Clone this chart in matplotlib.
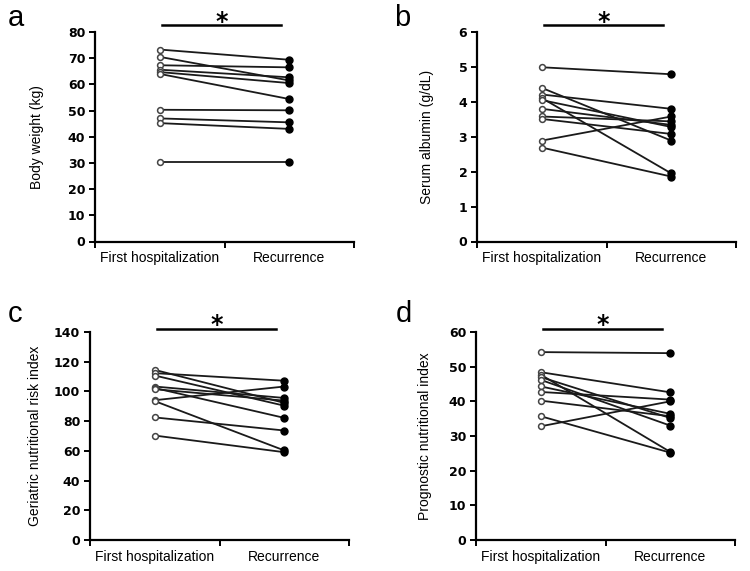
import numpy as np
import matplotlib.pyplot as plt
from matplotlib.ticker import NullFormatter

plt.rcParams['font.family'] = ['Liberation Sans', 'DejaVu Sans']

groups = ['First hospitalization', 'Recurrence']

# panel a: body weight (kg)
weight_first = [73.3, 70.5, 67.3, 65.6, 64.7, 64.0, 50.3, 47.0, 45.2, 30.2]
weight_rec = [69.4, 61.5, 66.5, 62.7, 60.5, 54.4, 50.1, 45.5, 43.0, 30.2]

# panel b: serum albumin (g/dL)
alb_first = [4.99, 4.40, 4.21, 4.11, 4.05, 3.80, 3.58, 3.51, 2.89, 2.69]
alb_rec = [4.79, 2.89, 3.80, 1.95, 3.28, 3.34, 3.44, 3.08, 3.58, 1.86]

# panel c: GNRI
gnri_first = [114.5, 112.3, 110.7, 103.3, 102.3, 101.5, 94.1, 93.5, 82.5, 70.3]
gnri_rec = [92.3, 107.2, 90.4, 95.6, 82.2, 93.8, 103.3, 60.3, 73.7, 59.1]

# panel d: PNI
pni_first = [54.2, 48.4, 47.7, 47.0, 46.2, 44.3, 42.7, 40.2, 35.7, 32.8]
pni_rec = [53.9, 42.6, 25.4, 35.2, 33.0, 36.4, 40.5, 35.7, 25.2, 40.0]

panels = [
    ('a', 'Body weight (kg)', weight_first, weight_rec, 80, 10),
    ('b', 'Serum albumin (g/dL)', alb_first, alb_rec, 6, 1),
    ('c', 'Geriatric nutritional risk index', gnri_first, gnri_rec, 140, 20),
    ('d', 'Prognostic nutritional index', pni_first, pni_rec, 60, 10),
]

W, H = 750, 571
# axes boxes in pixels: left, top, right, bottom
boxes = [(95, 32, 354, 241.5), (477, 32, 736, 241.5),
         (90, 332, 349, 540), (476, 332, 735, 540)]
letter_pos = [(8, 26), (394, 26), (8, 322), (396, 322)]
ylabel_x = [37, 427, 35, 425]
bar_y = [1.033, 1.033, 1.016, 1.016]

fig = plt.figure(figsize=(W / 100, H / 100), dpi=100)

for i, (letter, ylabel, first, rec, ymax, ystep) in enumerate(panels):
    l, t, r, b = boxes[i]
    ax = fig.add_axes([l / W, 1 - b / H, (r - l) / W, (b - t) / H])

    for f, s in zip(first, rec):
        ax.plot([0.5, 1.5], [f, s], color='#1a1a1a', lw=1.3, zorder=2)
    ax.plot([0.5] * len(first), first, 'o', ms=4.2, mfc='white', mec='#444444',
            mew=1.1, zorder=3, clip_on=False)
    ax.plot([1.5] * len(rec), rec, 'o', ms=5, mfc='black', mec='black',
            zorder=3, clip_on=False)

    ax.set_xlim(0, 2)
    ax.set_ylim(0, ymax)
    ax.set_yticks(np.arange(0, ymax + ystep / 2, ystep))
    ax.set_xticks([0, 1, 2])
    ax.xaxis.set_major_formatter(NullFormatter())
    ax.set_xticks([0.5, 1.5], minor=True)
    ax.set_xticklabels(groups, minor=True, fontsize=10)
    ax.tick_params(axis='x', which='minor', length=0, pad=7)
    ax.tick_params(axis='both', which='major', direction='out', length=4,
                   width=1.4, color='black')
    ax.tick_params(axis='y', labelsize=9, pad=3)
    for lab in ax.get_yticklabels():
        lab.set_family('DejaVu Sans')
        lab.set_fontweight('bold')

    for side in ['top', 'right']:
        ax.spines[side].set_visible(False)
    for side in ['left', 'bottom']:
        ax.spines[side].set_linewidth(1.6)

    ax.set_ylabel(ylabel, fontsize=10, va='center')
    ax.yaxis.set_label_coords((ylabel_x[i] - l) / (r - l), 0.5)

    # significance bar with asterisk
    trans = ax.get_xaxis_transform()
    ax.plot([0.52, 1.44], [bar_y[i], bar_y[i]], color='black', lw=1.8,
            transform=trans, clip_on=False)
    ax.annotate('*', xy=(0.98, bar_y[i]), xycoords=trans,
                xytext=(0, -2.5), textcoords='offset points',
                ha='center', va='baseline', fontsize=17, fontweight='bold',
                family='DejaVu Sans')

    fig.text(letter_pos[i][0] / W, 1 - letter_pos[i][1] / H, letter,
             fontsize=21, ha='left', va='baseline')

fig.savefig('out.png', dpi=100)
